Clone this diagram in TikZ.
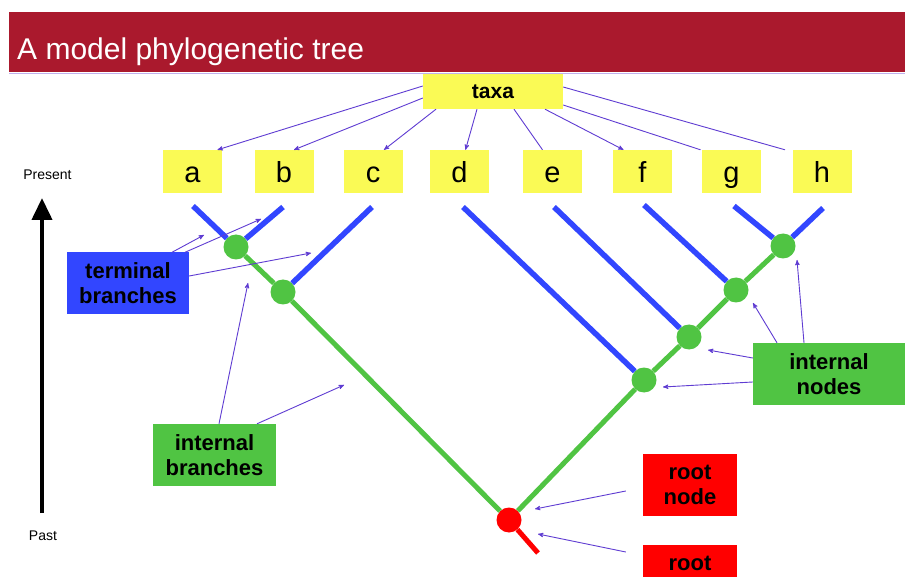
\documentclass[tikz,border=0pt]{standalone}
\usepackage{fontspec}
\setmainfont{Liberation Sans}
\usetikzlibrary{arrows,arrows.meta}
\definecolor{bannerred}{RGB}{170,25,45}
\definecolor{taxyellow}{RGB}{250,250,85}
\definecolor{brblue}{RGB}{50,70,255}
\definecolor{brgreen}{RGB}{80,196,67}
\definecolor{ptrpurple}{RGB}{95,60,210}

\begin{document}
\begin{tikzpicture}[x=1pt,y=-1pt,>=stealth',
	tip/.style={fill=taxyellow,minimum width=59pt,minimum height=43pt,inner sep=0pt,text height=23pt,text depth=0pt,font=\fontsize{29}{29}\selectfont},
	lbl/.style={minimum height=62pt,inner sep=0pt,align=center,font=\fontsize{22}{25}\selectfont\bfseries},
	inode/.style={circle,fill=brgreen,minimum size=25pt,inner sep=0pt},
	term/.style={line width=5.5pt,brblue},
	intl/.style={line width=5pt,brgreen},
	ptr/.style={->,ptrpurple,line width=0.9pt},
	ptrx/.style={ptrpurple,line width=0.9pt}]
	\clip (0,0) rectangle (905,577);
	\fill[white] (0,0) rectangle (905,577);

	\fill[bannerred] (9,12) rectangle (905,72);
	\draw[ptrpurple!40,line width=1pt] (9,73.5) -- (905,73.5);
	\node[anchor=base west,white,inner sep=0pt,font=\fontsize{30}{30}\selectfont] (ttl) at (17,60) {A model phylogenetic tree};

	\node[fill=taxyellow,minimum width=140pt,minimum height=35pt,inner sep=0pt,font=\fontsize{21}{21}\selectfont\bfseries] (taxa) at (493,91.5) {taxa};

	\node[tip] (a)	at (192.5,171.5)	{a};
	\node[tip] (b)	at (284,171.5)	{b};
	\node[tip] (c)	at (373,171.5)	{c};
	\node[tip] (d)	at (459.5,171.5)	{d};
	\node[tip] (e)	at (552.5,171.5)	{e};
	\node[tip] (f)	at (642.5,171.5)	{f};
	\node[tip] (g)	at (731.5,171.5)	{g};
	\node[tip] (h)	at (822,171.5)	{h};

	\path
		([yshift=5.5pt]taxa.west)	edge	[ptr]	([xshift=25pt]a.north)
		([yshift=-6.5pt]taxa.west)	edge	[ptr]	([xshift=10pt]b.north)
		([xshift=-57pt]taxa.south)	edge	[ptr]	([xshift=11pt]c.north)
		([xshift=-16pt]taxa.south)	edge	[ptr]	([xshift=6pt]d.north)
		([xshift=21pt]taxa.south)	edge	[ptrx]	([xshift=-10pt]e.north)
		([xshift=52pt]taxa.south)	edge	[ptr]	([xshift=-19pt]f.north)
		([yshift=-13.5pt]taxa.east)	edge	[ptrx]	([xshift=-31pt]g.north)
		([yshift=4.5pt]taxa.east)	edge	[ptrx]	([xshift=-37pt]h.north)
	;

	\node[font=\fontsize{14}{14}\selectfont] (prs) at (47.5,175) {Present};
	\node[font=\fontsize{14}{14}\selectfont] (pst) at (43,536) {Past};
	\coordinate (tlo) at (42,513);
	\coordinate (thi) at (42,198);
	\draw[line width=4pt,-{Triangle[length=22pt,width=20pt]}] (tlo) -- (thi);

	\coordinate (ta) at (193,206);
	\coordinate (tb) at (283,207);
	\coordinate (tc) at (372,207);
	\coordinate (td) at (463,207);
	\coordinate (te) at (554,207);
	\coordinate (tf) at (644,205);
	\coordinate (tg) at (734,206);
	\coordinate (th) at (823,208);
	\coordinate (rt) at (538,553);

	\node[inode] (n1) at (236,247) {};
	\node[inode] (n2) at (283,292) {};
	\node[inode] (n3) at (644,380) {};
	\node[inode] (n4) at (689,337) {};
	\node[inode] (n5) at (736,290) {};
	\node[inode] (n6) at (783,246) {};
	\node[inode,fill=red] (r) at (509,520) {};

	\draw[term] (ta) -- (n1);
	\draw[term] (tb) -- (n1);
	\draw[term] (tc) -- (n2);
	\draw[term] (td) -- (n3);
	\draw[term] (te) -- (n4);
	\draw[term] (tf) -- (n5);
	\draw[term] (tg) -- (n6);
	\draw[term] (th) -- (n6);
	\draw[intl] (n1) -- (n2);
	\draw[intl] (n2) -- (r);
	\draw[intl] (r) -- (n3);
	\draw[intl] (n3) -- (n4);
	\draw[intl] (n4) -- (n5);
	\draw[intl] (n5) -- (n6);
	\draw[line width=5pt,red] (r) -- (rt);

	\node[lbl,fill=brblue,minimum width=122pt]	(tbr)	at (128,283.5)	{terminal\\branches};
	\node[lbl,fill=brgreen,minimum width=123pt]	(ibr)	at (214.5,455)	{internal\\branches};
	\node[lbl,fill=brgreen,minimum width=152pt]	(ind)	at (829,374)	{internal\\nodes};
	\node[lbl,fill=red,minimum width=94pt]	(rnd)	at (690,485)	{root\\node};
	\node[lbl,fill=red,minimum width=94pt]	(rtl)	at (690,576)	{root\\\phantom{node}};

	\coordinate (p1) at (204,235);
	\coordinate (p2) at (261,219);
	\coordinate (p3) at (311,253);
	\coordinate (p4) at (248,283);
	\coordinate (p5) at (344,385);
	\coordinate (p6) at (708,350);
	\coordinate (p7) at (663,387);
	\coordinate (p8) at (753,303);
	\coordinate (p9) at (797,260);
	\coordinate (p10) at (535,509);
	\coordinate (p11) at (538,534);

	\path
		([xshift=44pt]tbr.north)	edge	[ptr]	(p1)
		([xshift=57pt]tbr.north)	edge	[ptr]	(p2)
		([yshift=7.5pt]tbr.east)	edge	[ptr]	(p3)
		([xshift=4.5pt]ibr.north)	edge	[ptr]	(p4)
		([xshift=42.5pt]ibr.north)	edge	[ptr]	(p5)
		([yshift=16pt]ind.west)	edge	[ptr]	(p6)
		([yshift=-8pt]ind.west)	edge	[ptr]	(p7)
		([xshift=-52pt]ind.north)	edge	[ptr]	(p8)
		([xshift=-25pt]ind.north)	edge	[ptr]	(p9)
		([xshift=-17pt,yshift=-6pt]rnd.west)	edge	[ptr]	(p10)
		([xshift=-17pt,yshift=24pt]rtl.west)	edge	[ptr]	(p11)
	;
\end{tikzpicture}
\end{document}
